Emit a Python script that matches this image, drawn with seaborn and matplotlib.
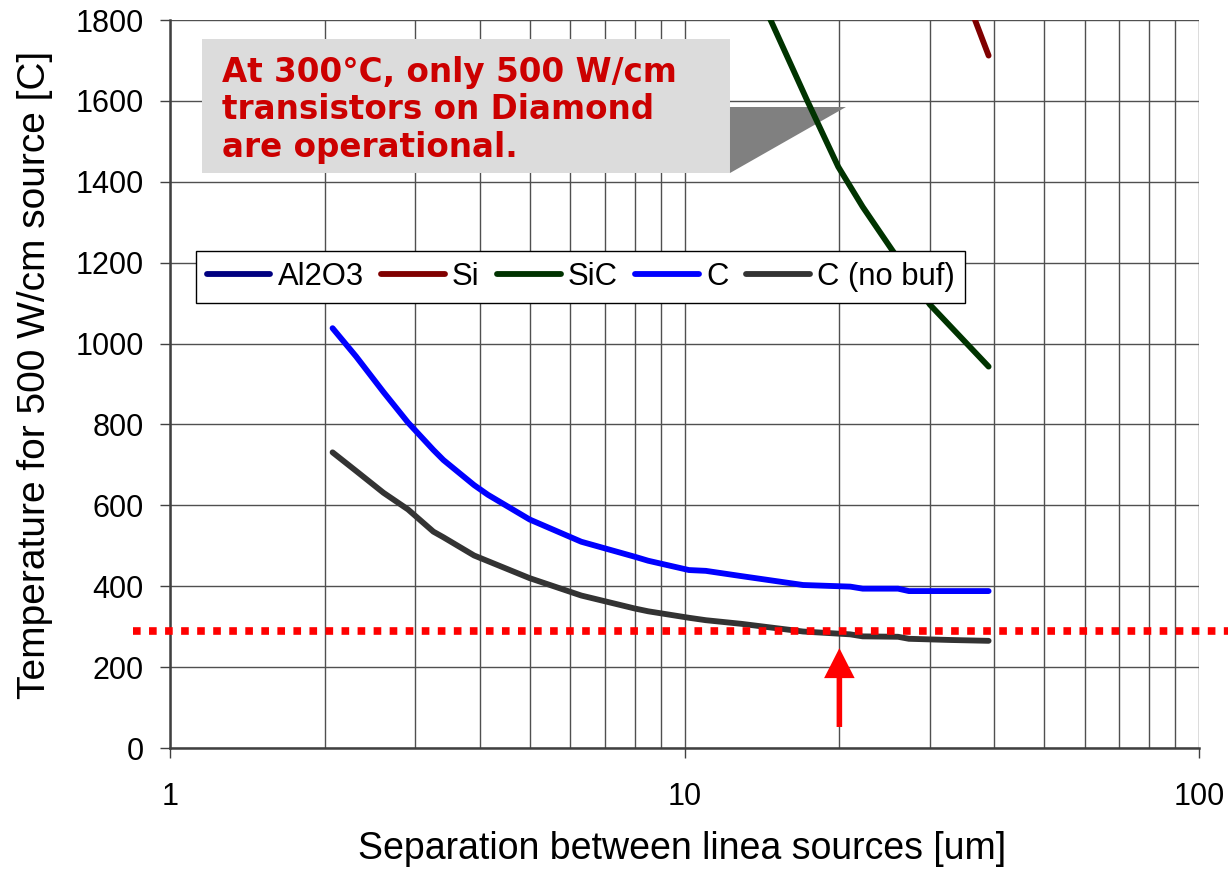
import matplotlib
matplotlib.use("Agg")
import matplotlib.pyplot as plt
import matplotlib.transforms as mtransforms
from matplotlib.lines import Line2D
from matplotlib.patches import Rectangle, Polygon
from matplotlib.ticker import FixedLocator, FixedFormatter, LogLocator, NullFormatter, NullLocator
import pandas as pd
import seaborn as sns

sns.set_style("white")
plt.rcParams["font.family"] = ["Liberation Sans", "DejaVu Sans"]
plt.rcParams["text.color"] = "black"
plt.rcParams["axes.labelcolor"] = "black"

# ---- data -------------------------------------------------------------
materials = ["Al2O3", "Si", "SiC", "C", "C (no buf)"]
line_colors = ["#000080", "#800000", "#003300", "#0000FF", "#333333"]

# diamond substrate, with and without buffer layer
sep_c = [2.07, 2.3, 2.6, 2.9, 3.25, 3.4, 3.9, 4.15, 5.0, 6.3, 8.0, 8.5,
         10.2, 11.0, 12.9, 17.0, 21.0, 22.2, 26.0, 27.3, 33.0, 39.0]
temp_c = [1038, 968, 880, 805, 737, 712, 650, 626, 565, 510, 473, 463,
          440, 438, 425, 403, 399, 394, 394, 388, 388, 388]
temp_c_nobuf = [731, 685, 631, 590, 535, 521, 476, 462, 420, 377, 345, 338,
                322, 316, 307, 288, 281, 276, 275, 270, 267, 265]

# silicon carbide
sep_sic = [13.0, 14.7, 17.3, 19.9, 22.2, 25.3, 30.0, 39.0]
temp_sic = [1953, 1800, 1602, 1437, 1338, 1232, 1096, 943]

# silicon
sep_si = [33.0, 36.7, 39.0]
temp_si = [1956, 1800, 1712]

# sapphire stays above the plotted temperature range
sep_al2o3 = []
temp_al2o3 = []

threshold_temp = 290
arrow_sep = 20
arrow_tail, arrow_tip = 52, 247

y_ticks = list(range(0, 1801, 200))
x_ticks = [1, 10, 100]
x_tick_labels = ["1", "10", "100"]

callout_lines = ["At 300°C, only 500 W/cm",
                 "transistors on Diamond",
                 "are operational."]

# ---- long-form table ----------------------------------------------------
series = [("Al2O3", sep_al2o3, temp_al2o3),
          ("Si", sep_si, temp_si),
          ("SiC", sep_sic, temp_sic),
          ("C", sep_c, temp_c),
          ("C (no buf)", sep_c, temp_c_nobuf)]
df = pd.concat([pd.DataFrame({"sep": xs, "temp": ys, "material": name})
                for name, xs, ys in series if len(xs)], ignore_index=True)
palette = dict(zip(materials, line_colors))

# ---- figure ------------------------------------------------------------
W, H = 1228, 874
LW = 4.2
fig = plt.figure(figsize=(W / 100, H / 100), dpi=100)
ax = fig.add_axes([170 / W, 1 - 748 / H, 1029 / W, 728 / H])
ax.set_xscale("log")

sns.lineplot(data=df, x="sep", y="temp", hue="material",
             hue_order=[m for m in materials if m in set(df["material"])],
             palette=palette, estimator=None, sort=True, legend=False,
             lw=LW, solid_capstyle="round", solid_joinstyle="round",
             zorder=4, ax=ax)

ax.set_xlim(1, 100)
ax.set_ylim(0, 1800)
ax.xaxis.set_major_locator(FixedLocator(x_ticks))
ax.xaxis.set_major_formatter(FixedFormatter(x_tick_labels))
ax.xaxis.set_minor_locator(LogLocator(base=10, subs=range(2, 10)))
ax.xaxis.set_minor_formatter(NullFormatter())
ax.yaxis.set_major_locator(FixedLocator(y_ticks))
ax.yaxis.set_minor_locator(NullLocator())

ax.grid(True, which="both", axis="x", color="#505050", lw=1.0)
ax.grid(True, which="major", axis="y", color="#505050", lw=1.0)
ax.set_axisbelow(True)

for side in ("top", "right"):
    ax.spines[side].set_visible(False)
for side in ("left", "bottom"):
    ax.spines[side].set_color("#404040")
    ax.spines[side].set_linewidth(1.8)

ax.tick_params(axis="both", which="major", direction="out", length=7.5,
               width=1, color="#404040", labelsize=22, labelcolor="black",
               left=True, bottom=True)
ax.tick_params(axis="y", which="major", pad=11.5)
ax.tick_params(axis="x", which="major", pad=17)
ax.tick_params(axis="both", which="minor", length=0)

ax.set_xlabel("Separation between linea sources [um]", fontsize=27,
              color="black")
ax.set_ylabel("Temperature for 500 W/cm source [C]", fontsize=28,
              color="black")
ax.xaxis.set_label_coords(0.4976, -0.114)
ax.yaxis.set_label_coords(-0.1137, 0.512)

# ---- legend ------------------------------------------------------------
handles = [Line2D([], [], color=c, lw=LW, solid_capstyle="round")
           for c in line_colors]
leg = ax.legend(handles, materials, ncol=5, loc="upper left",
                bbox_to_anchor=(0.0253, 0.6827), borderaxespad=0,
                frameon=True, fancybox=False, edgecolor="black",
                framealpha=1, fontsize=22.3, handlelength=2.05,
                handletextpad=0.23, columnspacing=0.57, borderpad=0.35)
leg.get_frame().set_linewidth(1.0)
for t in leg.get_texts():
    t.set_color("black")
leg.set_zorder(7)

# ---- callout -----------------------------------------------------------
ax.add_patch(Rectangle((0.0311, 0.7898), 0.5131, 0.1841,
                       transform=ax.transAxes, facecolor="#DCDCDC",
                       edgecolor="none", zorder=1, clip_on=False))
ax.add_patch(Polygon([(0.5442, 0.8805), (0.6569, 0.8805), (0.5442, 0.7898)],
                     closed=True, transform=ax.transAxes,
                     facecolor="#808080", edgecolor="none", zorder=1,
                     clip_on=False))
for yy, line in zip([0.9148, 0.8640, 0.8118], callout_lines):
    ax.text(0.0505, yy, line, transform=ax.transAxes, color="#CC0000",
            fontsize=23.5, fontweight="bold", family="DejaVu Sans",
            va="baseline", ha="left", zorder=6)

# ---- 300 C threshold and marker arrow -----------------------------------
blend = mtransforms.blended_transform_factory(ax.transAxes, ax.transData)
ax.plot([-0.036, 1.06], [threshold_temp, threshold_temp], transform=blend,
        color="red", lw=5.5, linestyle=(0, (1, 1.1)), dash_capstyle="butt",
        clip_on=False, zorder=5)
ax.annotate("", xy=(arrow_sep, arrow_tip), xytext=(arrow_sep, arrow_tail),
            arrowprops=dict(facecolor="red", edgecolor="none", width=4,
                            headwidth=22, headlength=21.6, shrink=0),
            zorder=6)

fig.savefig("out.png", dpi=100)
